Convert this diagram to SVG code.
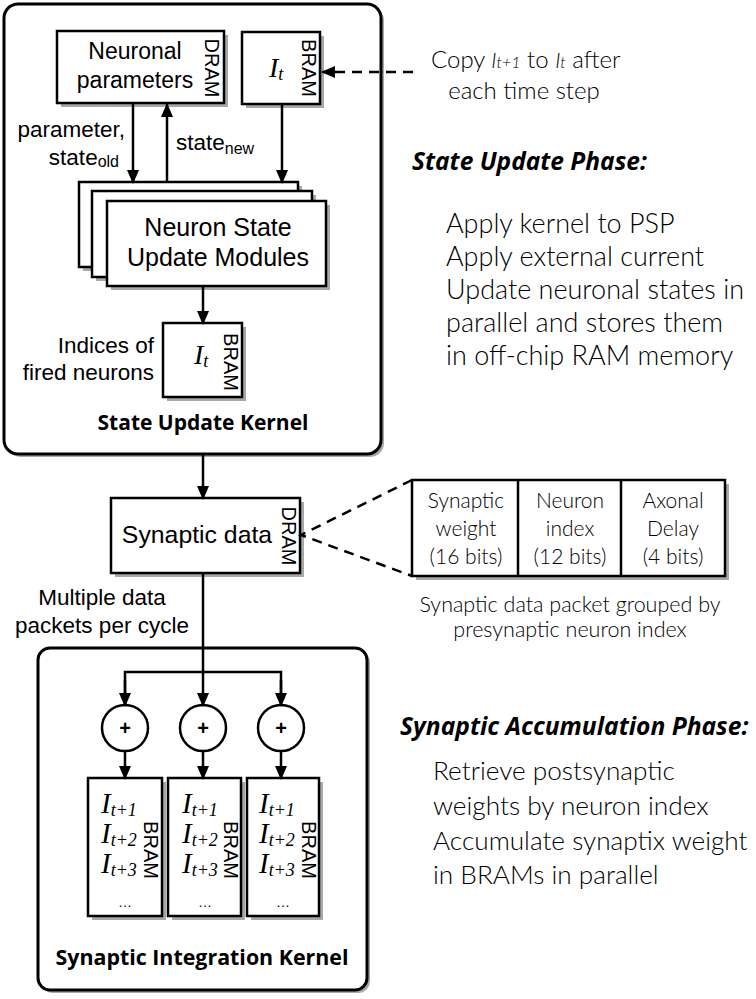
<svg xmlns="http://www.w3.org/2000/svg" width="756" height="999" viewBox="0 0 756 999">
<defs>
<marker id="ah" markerUnits="userSpaceOnUse" markerWidth="14" markerHeight="12" refX="13" refY="6" orient="auto">
<path d="M0,0 L14,6 L0,12 Z" fill="#000"/>
</marker>
<style>
.box{fill:#fff;stroke:#000;stroke-width:2.5}
.sh{fill:#a8a8a8;stroke:none}
.obox{fill:#fff;stroke:#000;stroke-width:3}
.ar{fill:none;stroke:#000;stroke-width:2.5}
.dash{fill:none;stroke:#000;stroke-width:2.5;stroke-dasharray:10,7}
.sans{font-family:"Liberation Sans",Arial,sans-serif;fill:#000}
.cal{font-family:Lato,"Open Sans",sans-serif;font-weight:300;fill:#000}
.calb{font-family:"Open Sans",Lato,sans-serif;font-weight:700;fill:#000}
.ti{font-family:"Liberation Serif","Times New Roman",serif;font-style:italic;fill:#000}
.vert{font-family:"Liberation Sans",Arial,sans-serif;font-size:20px;text-anchor:middle;fill:#000}
</style>
</defs>
<rect width="756" height="999" fill="#fff"/>

<g id="state-update-kernel">
<rect class="sh" x="7" y="7" width="377" height="450" rx="14"/>
<rect class="obox" x="4" y="4" width="377" height="450" rx="14"/>
<text class="calb" x="203" y="430" font-size="21" text-anchor="middle">State Update Kernel</text>
</g>

<g id="synaptic-integration-kernel">
<rect class="sh" x="41" y="651" width="329" height="342" rx="12"/>
<rect class="obox" x="38" y="648" width="329" height="342" rx="12"/>
<text class="calb" x="202" y="965" font-size="21.4" text-anchor="middle">Synaptic Integration Kernel</text>
</g>

<g id="neuronal-parameters">
<rect class="sh" x="61" y="35" width="167" height="72"/>
<rect class="box" x="57" y="31" width="167" height="72"/>
<text class="sans" x="135" y="59" font-size="23" text-anchor="middle">Neuronal</text>
<text class="sans" x="135" y="88" font-size="23" text-anchor="middle">parameters</text>
<text class="vert" transform="translate(205,68) rotate(90)">DRAM</text>
</g>

<g id="it-bram">
<rect class="sh" x="246" y="36" width="78" height="72"/>
<rect class="box" x="242" y="32" width="78" height="72"/>
<text class="ti" x="269" y="77" font-size="28">I<tspan font-size="18" dy="3">t</tspan></text>
<text class="vert" transform="translate(302,68) rotate(90)">BRAM</text>
</g>

<g id="neuron-state-update-modules">
<rect class="sh" x="83" y="186" width="219" height="85"/>
<rect class="box" x="79" y="182" width="219" height="85"/>
<rect class="sh" x="96" y="195" width="220" height="86"/>
<rect class="box" x="92" y="191" width="220" height="86"/>
<rect class="sh" x="111" y="205" width="219" height="85"/>
<rect class="box" x="107" y="201" width="219" height="85"/>
<text class="sans" x="218" y="236" font-size="25" text-anchor="middle">Neuron State</text>
<text class="sans" x="218" y="266" font-size="25" text-anchor="middle">Update Modules</text>
</g>

<g id="fired-bram">
<rect class="sh" x="167" y="327" width="79" height="74"/>
<rect class="box" x="163" y="323" width="79" height="74"/>
<text class="ti" x="194" y="364" font-size="28">I<tspan font-size="18" dy="3">t</tspan></text>
<text class="vert" transform="translate(224,362) rotate(90)">BRAM</text>
<text class="sans" x="154" y="353" font-size="22.5" text-anchor="end">Indices of</text>
<text class="sans" x="154" y="380" font-size="22.5" text-anchor="end">fired neurons</text>
</g>

<g id="synaptic-data">
<rect class="sh" x="115" y="502" width="189" height="75"/>
<rect class="box" x="111" y="498" width="189" height="75"/>
<text class="sans" x="197" y="543" font-size="24.8" text-anchor="middle">Synaptic data</text>
<text class="vert" transform="translate(282,536) rotate(90)">DRAM</text>
</g>

<g id="packet">
<rect class="sh" x="416" y="484" width="313" height="96"/>
<rect class="box" x="412" y="480" width="313" height="96"/>
<line class="ar" x1="518" y1="480" x2="518" y2="576" stroke-width="3"/>
<line class="ar" x1="621" y1="480" x2="621" y2="576" stroke-width="3"/>
<g class="cal" font-size="21" text-anchor="middle">
<text x="466" y="508">Synaptic</text>
<text x="466" y="536">weight</text>
<text x="466" y="564">(16 bits)</text>
<text x="570" y="508">Neuron</text>
<text x="570" y="536">index</text>
<text x="570" y="564">(12 bits)</text>
<text x="673" y="508">Axonal</text>
<text x="673" y="536">Delay</text>
<text x="673" y="564">(4 bits)</text>
<text x="570" y="612" font-size="21.5">Synaptic data packet grouped by</text>
<text x="570" y="637" font-size="21.5">presynaptic neuron index</text>
</g>
</g>

<g id="adders">
<circle class="box" cx="125" cy="728" r="23"/>
<circle class="box" cx="203" cy="728" r="23"/>
<circle class="box" cx="281" cy="728" r="23"/>
<g class="sans" font-size="20" font-weight="700" text-anchor="middle">
<text x="125" y="735">+</text>
<text x="203" y="735">+</text>
<text x="281" y="735">+</text>
</g>
</g>

<g id="acc-brams">
<rect class="sh" x="92" y="782" width="74" height="138"/>
<rect class="box" x="88" y="778" width="74" height="138"/>
<rect class="sh" x="172" y="782" width="73" height="138"/>
<rect class="box" x="168" y="778" width="73" height="138"/>
<rect class="sh" x="251" y="782" width="72" height="138"/>
<rect class="box" x="247" y="778" width="72" height="138"/>
<g class="ti" font-size="29">
<text x="101" y="813">I<tspan font-size="18" dy="3">t+1</tspan></text>
<text x="101" y="843">I<tspan font-size="18" dy="3">t+2</tspan></text>
<text x="101" y="873">I<tspan font-size="18" dy="3">t+3</tspan></text>
<text x="182" y="813">I<tspan font-size="18" dy="3">t+1</tspan></text>
<text x="182" y="843">I<tspan font-size="18" dy="3">t+2</tspan></text>
<text x="182" y="873">I<tspan font-size="18" dy="3">t+3</tspan></text>
<text x="259" y="813">I<tspan font-size="18" dy="3">t+1</tspan></text>
<text x="259" y="843">I<tspan font-size="18" dy="3">t+2</tspan></text>
<text x="259" y="873">I<tspan font-size="18" dy="3">t+3</tspan></text>
</g>
<g class="sans" font-size="14" text-anchor="middle">
<text x="125" y="907">…</text>
<text x="205" y="907">…</text>
<text x="283" y="907">…</text>
</g>
<text class="vert" transform="translate(144,850) rotate(90)">BRAM</text>
<text class="vert" transform="translate(224,850) rotate(90)">BRAM</text>
<text class="vert" transform="translate(302,850) rotate(90)">BRAM</text>
</g>

<g id="connectors">
<line class="ar" x1="133" y1="103" x2="133" y2="183" marker-end="url(#ah)"/>
<line class="ar" x1="167" y1="182" x2="167" y2="104" marker-end="url(#ah)"/>
<line class="ar" x1="282" y1="104" x2="282" y2="183" marker-end="url(#ah)"/>
<line class="dash" x1="413" y1="72" x2="322" y2="72" marker-end="url(#ah)"/>
<line class="ar" x1="203" y1="286" x2="203" y2="324" marker-end="url(#ah)"/>
<line class="ar" x1="203" y1="455" x2="203" y2="499" marker-end="url(#ah)"/>
<line class="ar" x1="203" y1="573" x2="203" y2="706" marker-end="url(#ah)"/>
<polyline class="ar" points="125,706 125,672 281,672 281,706"/>
<line class="ar" x1="125" y1="680" x2="125" y2="706" marker-end="url(#ah)"/>
<line class="ar" x1="281" y1="680" x2="281" y2="706" marker-end="url(#ah)"/>
<line class="ar" x1="125" y1="751" x2="125" y2="779" marker-end="url(#ah)"/>
<line class="ar" x1="203" y1="751" x2="203" y2="779" marker-end="url(#ah)"/>
<line class="ar" x1="281" y1="751" x2="281" y2="779" marker-end="url(#ah)"/>
<polyline class="dash" points="412,480 301,535 412,576"/>
</g>

<g id="labels">
<text class="sans" x="125" y="137" font-size="22.5" text-anchor="end">parameter,</text>
<text class="sans" x="119" y="165" font-size="22.5" text-anchor="end">state<tspan font-size="16" dy="2">old</tspan></text>
<text class="sans" x="176" y="150" font-size="22.5">state<tspan font-size="16" dy="4">new</tspan></text>
<text class="sans" x="102" y="605" font-size="22.5" text-anchor="middle">Multiple data</text>
<text class="sans" x="102" y="633" font-size="22.5" text-anchor="middle">packets per cycle</text>
<text class="cal" x="431" y="68" font-size="24">Copy <tspan font-style="italic" font-size="21">I</tspan><tspan font-style="italic" font-size="16">t+1</tspan> to <tspan font-style="italic" font-size="21">I</tspan><tspan font-style="italic" font-size="16">t</tspan> after</text>
<text class="cal" x="524" y="99" font-size="24" text-anchor="middle">each time step</text>
</g>

<g id="state-update-phase">
<text class="calb" x="412" y="170" font-size="24.5" font-style="italic">State Update Phase:</text>
<g class="cal" font-size="27">
<text x="446" y="233">Apply kernel to PSP</text>
<text x="446" y="266">Apply external current</text>
<text x="446" y="299">Update neuronal states in</text>
<text x="446" y="332">parallel and stores them</text>
<text x="446" y="365">in off-chip RAM memory</text>
</g>
</g>

<g id="synaptic-accumulation-phase">
<text class="calb" x="400" y="735" font-size="24.6" font-style="italic">Synaptic Accumulation Phase:</text>
<g class="cal" font-size="26.2">
<text x="433" y="780">Retrieve postsynaptic</text>
<text x="433" y="815">weights by neuron index</text>
<text x="433" y="850">Accumulate synaptix weight</text>
<text x="433" y="884">in BRAMs in parallel</text>
</g>
</g>
</svg>
